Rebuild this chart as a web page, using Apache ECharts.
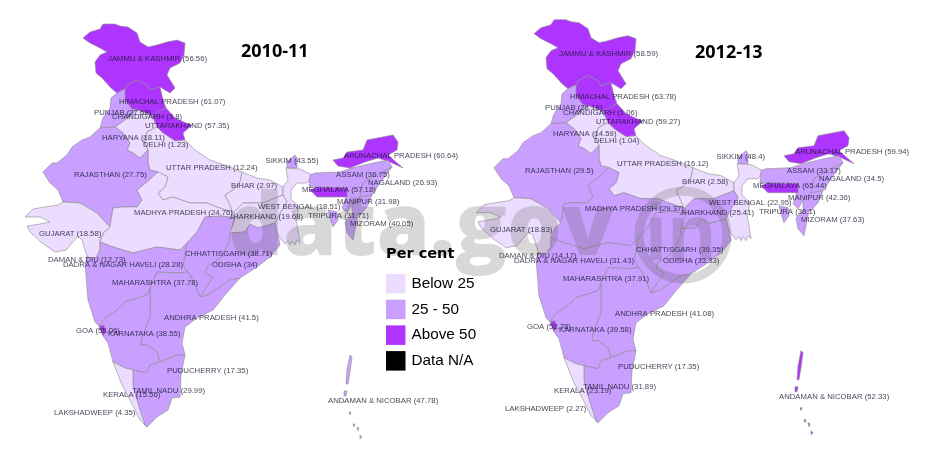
<!DOCTYPE html>
<html>
<head>
<meta charset="utf-8">
<script src="https://cdn.jsdelivr.net/npm/echarts@6/dist/echarts.min.js"></script>
<style>html,body{margin:0;background:#fff}#main{width:932px;height:464px}</style>
</head>
<body>
<div id="main"></div>
<script>
var stateNames = ['JAMMU & KASHMIR','HIMACHAL PRADESH','PUNJAB','CHANDIGARH','UTTARAKHAND','HARYANA','DELHI','UTTAR PRADESH','RAJASTHAN','BIHAR','SIKKIM','WEST BENGAL','JHARKHAND','MADHYA PRADESH','ARUNACHAL PRADESH','ASSAM','NAGALAND','MEGHALAYA','MANIPUR','TRIPURA','MIZORAM','GUJARAT','DAMAN & DIU','DADRA & NAGAR HAVELI','CHHATTISGARH','ODISHA','MAHARASHTRA','ANDHRA PRADESH','GOA','KARNATAKA','PUDUCHERRY','TAMIL NADU','KERALA','LAKSHADWEEP','ANDAMAN & NICOBAR'];
var values1011 = [56.56,61.07,27.68,3.8,57.35,18.11,1.23,12.24,27.75,2.97,43.55,18.51,19.68,24.76,60.64,36.75,26.93,57.18,31.98,31.71,40.05,18.58,12.73,28.28,38.71,34,37.78,41.5,55.06,38.55,17.35,29.99,15.56,4.35,47.78];
var values1213 = [58.59,63.78,28.18,1.06,59.27,14.59,1.04,16.12,29.5,2.58,48.4,22.95,25.41,29.37,59.94,33.17,34.5,65.44,42.36,36.1,37.63,18.83,14.17,31.43,39.35,33.33,37.91,41.08,52.78,39.58,17.35,31.89,23.19,2.27,52.33];
var panelTitles = ['2010-11','2012-13'];
var legendTitle = 'Per cent';
var legendLabels = ['Below 25','25 - 50','Above 50','Data N/A'];

var outlines = {
  'JAMMU & KASHMIR': [[[83,38],[90,32],[100,29],[103,24],[115,24],[120,26],[128,27],[137,33],[140,42],[148,47],[157,45],[167,42],[177,40],[185,43],[184,55],[180,63],[170,68],[167,75],[175,88],[170,93],[160,87],[150,90],[147,85],[137,80],[127,85],[125,89],[117,93],[111,88],[102,78],[96,73],[95,62],[100,55],[107,52],[100,48],[90,43]]],
  'HIMACHAL PRADESH': [[[125,89],[127,85],[137,80],[147,85],[150,90],[160,87],[163,100],[166,108],[158,112],[152,116],[146,113],[137,110],[132,109],[125,100]]],
  'PUNJAB': [[[117,93],[125,89],[125,100],[132,109],[137,110],[130,116],[125,120],[115,127],[100,128],[103,118],[110,108],[111,98]]],
  'CHANDIGARH': [[[129,114],[132,114],[132,117],[129,117]]],
  'UTTARAKHAND': [[[166,108],[175,118],[186,123],[192,125],[183,133],[185,140],[175,141],[163,133],[157,127],[152,116],[158,112]]],
  'HARYANA': [[[115,127],[125,120],[130,116],[137,110],[146,113],[152,116],[157,127],[147,132],[145,143],[148,150],[140,158],[133,153],[127,150],[130,143],[123,133]]],
  'DELHI': [[[144,137],[149,137],[149,143],[144,143]]],
  'UTTAR PRADESH': [[[157,127],[163,133],[175,141],[185,140],[195,150],[210,160],[225,165],[242,172],[240,182],[233,190],[225,195],[230,205],[233,213],[235,213],[217,207],[207,203],[190,203],[173,197],[163,200],[158,193],[165,187],[168,177],[158,172],[150,170],[148,163],[148,150],[145,143],[147,132]]],
  'RAJASTHAN': [[[100,128],[90,137],[82,140],[72,147],[67,155],[57,163],[52,163],[43,172],[50,183],[58,190],[63,202],[80,203],[97,213],[110,227],[113,208],[123,207],[137,207],[142,200],[137,190],[147,182],[158,172],[150,170],[148,163],[148,150],[140,158],[133,153],[127,150],[130,143],[123,133],[115,127]]],
  'BIHAR': [[[242,172],[257,178],[270,180],[283,187],[283,195],[263,203],[243,203],[233,213],[230,205],[225,195],[233,190],[240,182]]],
  'SIKKIM': [[[287,168],[287,162],[295,155],[297,158],[297,168]]],
  'WEST BENGAL': [[[286,168],[300,169],[312,175],[307,183],[297,183],[291,190],[291,199],[299,207],[296,220],[298,230],[300,243],[297,240],[295,245],[292,241],[290,245],[288,241],[285,244],[278,235],[275,223],[280,213],[287,202],[283,195],[283,187],[288,180]]],
  'JHARKHAND': [[[233,213],[243,203],[263,203],[283,195],[287,202],[280,213],[275,223],[258,228],[250,224],[245,232],[230,233],[235,218]]],
  'MADHYA PRADESH': [[[158,172],[168,177],[165,187],[158,193],[163,200],[173,197],[190,203],[207,203],[217,207],[235,213],[235,218],[222,216],[205,217],[197,232],[187,243],[180,250],[157,247],[133,253],[113,247],[100,242],[104,232],[110,227],[113,208],[123,207],[137,207],[142,200],[137,190],[147,182]]],
  'ARUNACHAL PRADESH': [[[333,160],[343,158],[347,152],[363,150],[367,140],[393,135],[398,142],[397,150],[388,155],[403,168],[390,162],[378,158],[365,162],[350,168],[338,166]]],
  'ASSAM': [[[310,175],[315,173],[340,172],[352,168],[373,163],[388,160],[392,167],[373,177],[363,183],[360,197],[352,205],[347,213],[342,208],[345,200],[347,188],[317,187],[309,187]]],
  'NAGALAND': [[[373,177],[392,167],[380,183],[372,195],[360,197],[363,183]]],
  'MEGHALAYA': [[[310,190],[317,187],[347,188],[347,197],[317,197]]],
  'MANIPUR': [[[360,197],[372,195],[367,207],[360,215],[352,215],[352,205]]],
  'TRIPURA': [[[328,210],[337,212],[338,220],[333,227],[330,218]]],
  'MIZORAM': [[[345,222],[352,215],[358,215],[355,230],[353,240],[347,233]]],
  'GUJARAT': [[[25,217],[33,209],[45,207],[58,205],[63,202],[80,203],[97,213],[110,227],[104,232],[100,240],[100,250],[96,258],[88,258],[85,250],[82,240],[78,236],[72,243],[66,250],[55,252],[42,243],[30,232],[27,226],[40,224],[50,222],[40,217]]],
  'DAMAN & DIU': [[[86,257],[88,257],[88,259],[86,259]]],
  'DADRA & NAGAR HAVELI': [[[89,259],[92,259],[92,262],[89,262]]],
  'CHHATTISGARH': [[[205,217],[222,216],[235,218],[230,233],[230,240],[222,257],[207,267],[205,273],[213,277],[208,285],[200,297],[192,279],[183,265],[187,243],[197,232]]],
  'ODISHA': [[[230,233],[245,232],[250,224],[258,228],[275,223],[278,235],[280,245],[270,257],[257,267],[240,278],[230,280],[220,287],[208,295],[200,297],[208,285],[213,277],[205,273],[207,267],[222,257],[230,240]]],
  'MAHARASHTRA': [[[85,263],[88,257],[96,258],[100,250],[100,242],[113,247],[133,253],[157,247],[180,250],[187,243],[183,265],[192,279],[188,272],[177,273],[157,272],[150,288],[147,295],[125,302],[117,310],[105,318],[99,326],[95,322],[88,300]]],
  'ANDHRA PRADESH': [[[157,272],[177,273],[188,272],[192,279],[200,297],[208,295],[220,287],[230,280],[240,278],[225,295],[213,310],[197,318],[185,327],[182,343],[185,355],[177,355],[160,362],[157,352],[147,345],[141,345],[142,337],[150,317],[150,288]]],
  'GOA': [[[99,326],[104,325],[106,332],[103,336]]],
  'KARNATAKA': [[[99,326],[105,318],[117,310],[125,302],[147,295],[150,288],[150,317],[142,337],[141,345],[147,345],[157,352],[160,362],[150,365],[147,373],[133,370],[125,368],[113,362],[108,343],[103,336],[106,332],[104,325]]],
  'PUDUCHERRY': [[[176,376],[178,376],[178,378],[176,378]]],
  'TAMIL NADU': [[[133,370],[147,373],[150,365],[160,362],[177,355],[185,355],[181,375],[180,397],[172,398],[168,410],[157,417],[147,427],[145,425],[140,410],[136,397],[133,385]]],
  'KERALA': [[[113,362],[125,368],[133,370],[133,385],[136,397],[140,410],[145,425],[147,427],[140,420],[130,400],[122,385]]],
  'LAKSHADWEEP': [[[68,412],[69,412],[69,413],[68,413]]],
  'ANDAMAN & NICOBAR': [[[350,355],[352,357],[350,372],[348,384],[346,384],[347,370]],[[344,391],[347,391],[346,396],[344,396]],[[349,412],[351,412],[350,415]],[[353,424],[355,424],[354,427]],[[357,427],[359,428],[358,431]],[[360,435],[362,437],[360,439]]]
};

// where each label starts, left map
var labelStarts = {
  'JAMMU & KASHMIR':[108,58.5],'HIMACHAL PRADESH':[119,101.5],'PUNJAB':[94,112.5],'CHANDIGARH':[112,117],'UTTARAKHAND':[145,126],'HARYANA':[102,138],'DELHI':[143,145],'UTTAR PRADESH':[166,168],'RAJASTHAN':[74,175],'BIHAR':[231,186],'SIKKIM':[265.5,161],'WEST BENGAL':[258,207],'JHARKHAND':[229,217],'MADHYA PRADESH':[134,213],'ARUNACHAL PRADESH':[344,156],'ASSAM':[336,175],'NAGALAND':[368,183],'MEGHALAYA':[302,190],'MANIPUR':[337,202],'TRIPURA':[308,216],'MIZORAM':[350,224],'GUJARAT':[39,234],'DAMAN & DIU':[48,260],'DADRA & NAGAR HAVELI':[63,265],'CHHATTISGARH':[185,254],'ODISHA':[212,265],'MAHARASHTRA':[112,283],'ANDHRA PRADESH':[164,318],'GOA':[76,331],'KARNATAKA':[108,334],'PUDUCHERRY':[167,371],'TAMIL NADU':[132,391],'KERALA':[103,395],'LAKSHADWEEP':[54,413],'ANDAMAN & NICOBAR':[328,401]
};

function flip(p) { return [p[0], -p[1]]; }

var features = stateNames.map(function (name) {
  return {
    type: 'Feature',
    properties: { name: name },
    geometry: {
      type: 'MultiPolygon',
      coordinates: outlines[name].map(function (ring) { return [ring.map(flip)]; })
    }
  };
});
// one registered name per panel, series on the same map get merged otherwise
var mapJson = { type: 'FeatureCollection', features: features };
echarts.registerMap('india1011', mapJson);
echarts.registerMap('india1213', JSON.parse(JSON.stringify(mapJson)));

var frame = [[0, 0], [464, -464]];
var panelCenters = [[232, 232], [683, 227.7]];

function mapSeries(map, values, c) {
  return {
    type: 'map',
    map: map,
    silent: true,
    aspectScale: 1,
    boundingCoords: frame,
    layoutCenter: c,
    layoutSize: 464,
    itemStyle: { borderColor: '#8c8c8c', borderWidth: 0.6 },
    label: { show: false },
    data: stateNames.map(function (name, i) { return { name: name, value: values[i] }; })
  };
}

function labelSeries(values, geoIndex) {
  return {
    type: 'scatter',
    coordinateSystem: 'geo',
    geoIndex: geoIndex,
    silent: true,
    z: 5,
    symbolSize: 0,
    label: {
      show: true,
      position: 'right',
      distance: 0,
      color: '#14142a',
      fontFamily: '"Liberation Sans"',
      fontSize: 7.75,
      formatter: function (p) { return p.name + ' (' + p.value[2] + ')'; }
    },
    data: stateNames.map(function (name, i) {
      var at = flip(labelStarts[name]);
      return { name: name, value: [at[0], at[1], values[i]] };
    })
  };
}

function anchorGeo(map, c) {
  return {
    map: map,
    silent: true,
    aspectScale: 1,
    boundingCoords: frame,
    layoutCenter: c,
    layoutSize: 464,
    label: { show: false },
    itemStyle: { areaColor: 'rgba(0,0,0,0)', borderWidth: 0 }
  };
}

var markGrey = 'rgba(100,100,100,0.25)';
var myChart = echarts.init(document.getElementById('main'));
var option = {
  animation: false,
  backgroundColor: '#fff',
  title: [
    { text: panelTitles[0], left: 241, top: 43, padding: 0, textStyle: { fontFamily: '"Open Sans"', fontSize: 18, fontWeight: 'bold', color: '#000' } },
    { text: panelTitles[1], left: 695, top: 44, padding: 0, textStyle: { fontFamily: '"Open Sans"', fontSize: 18, fontWeight: 'bold', color: '#000' } },
    { text: legendTitle, left: 386, top: 247, padding: 0, textStyle: { fontFamily: '"DejaVu Sans"', fontSize: 14.5, fontWeight: 'bold', color: '#000' } }
  ],
  geo: [anchorGeo('india1011', panelCenters[0]), anchorGeo('india1213', panelCenters[1])],
  visualMap: {
    type: 'piecewise',
    left: 386,
    top: 274,
    padding: 0,
    orient: 'vertical',
    inverse: true,
    itemWidth: 19.5,
    itemHeight: 19.5,
    itemGap: 6.2,
    textGap: 6,
    itemSymbol: 'rect',
    selectedMode: false,
    seriesIndex: [0, 1],
    textStyle: { fontFamily: '"Liberation Sans"', fontSize: 15.3, color: '#000' },
    pieces: [
      { min: 0, max: 25, label: legendLabels[0], color: '#ecdcff' },
      { min: 25, max: 50, label: legendLabels[1], color: '#c99fff' },
      { min: 50, max: 100, label: legendLabels[2], color: '#ae35ff' },
      { min: 100, max: 101, label: legendLabels[3], color: '#000' }
    ]
  },
  graphic: [
    { type: 'text', z: 3, x: 228, y: 187, style: { text: 'data.gov', fill: markGrey, font: '800 86px "Open Sans"' } },
    { type: 'circle', z: 3, shape: { cx: 683, cy: 235, r: 44 }, style: { fill: 'none', stroke: markGrey, lineWidth: 9 } },
    { type: 'text', z: 3, x: 645, y: 198, style: { text: 'in', fill: markGrey, font: 'bold 80px "Liberation Sans"' } }
  ],
  series: [
    mapSeries('india1011', values1011, panelCenters[0]),
    mapSeries('india1213', values1213, panelCenters[1]),
    labelSeries(values1011, 0),
    labelSeries(values1213, 1)
  ]
};
myChart.setOption(option, true);
</script>
</body>
</html>
